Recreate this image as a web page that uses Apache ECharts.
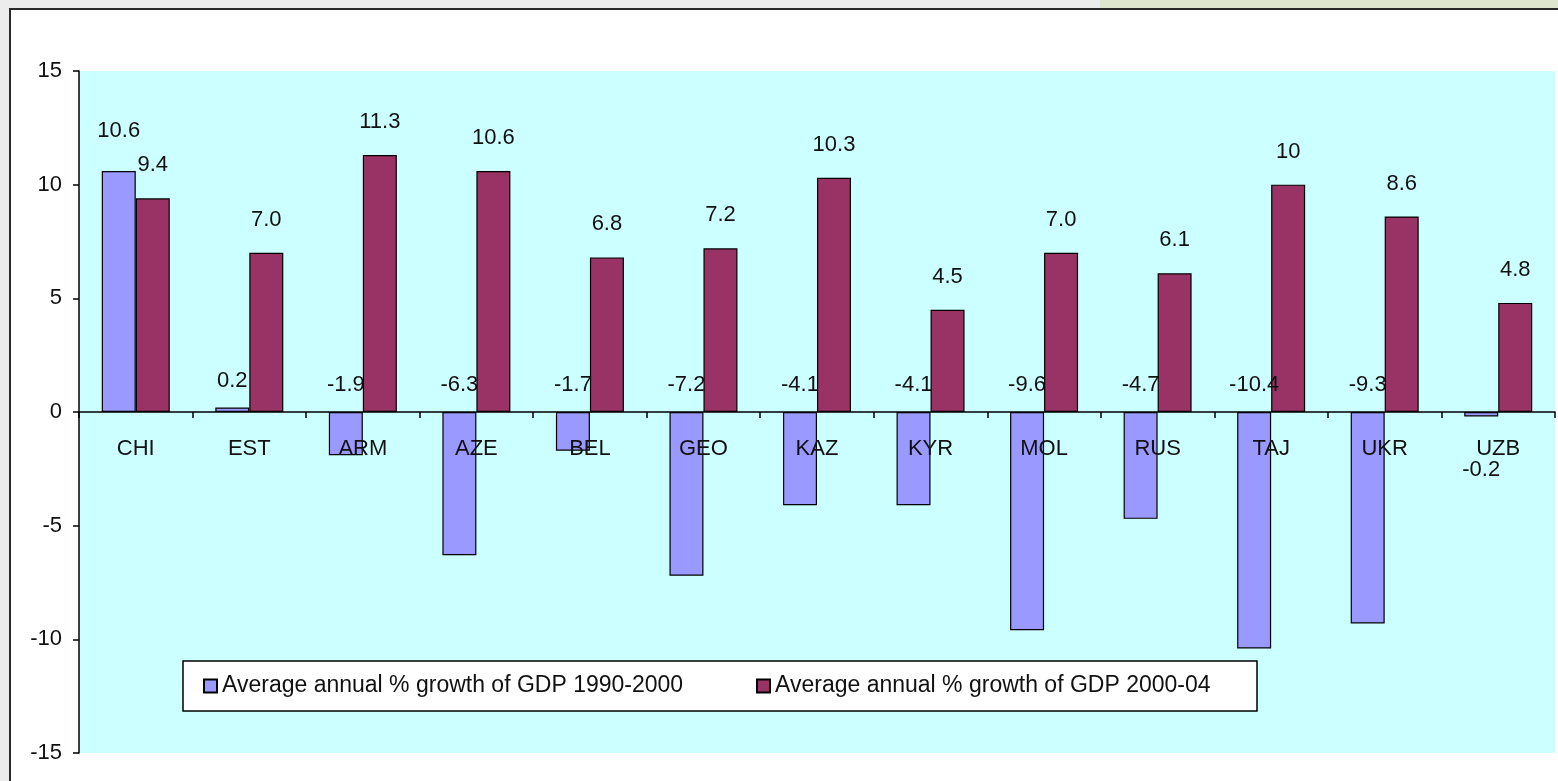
<!DOCTYPE html>
<html><head><meta charset="utf-8">
<script src="https://cdn.jsdelivr.net/npm/echarts@6/dist/echarts.min.js"></script>
<style>html,body{margin:0;padding:0;background:#ececec;}#c{width:1558px;height:781px;}</style>
</head><body><div id="c"></div>
<script>
const categories = ['CHI','EST','ARM','AZE','BEL','GEO','KAZ','KYR','MOL','RUS','TAJ','UKR','UZB'];
const gdp1990_2000 = [10.6, 0.2, -1.9, -6.3, -1.7, -7.2, -4.1, -4.1, -9.6, -4.7, -10.4, -9.3, -0.2];
const gdp2000_04 = [9.4, 7.0, 11.3, 10.6, 6.8, 7.2, 10.3, 4.5, 7.0, 6.1, 10, 8.6, 4.8];
const label1 = ['10.6','0.2','-1.9','-6.3','-1.7','-7.2','-4.1','-4.1','-9.6','-4.7','-10.4','-9.3','-0.2'];
const label2 = ['9.4','7.0','11.3','10.6','6.8','7.2','10.3','4.5','7.0','6.1','10','8.6','4.8'];
const seriesNames = ['Average annual % growth of GDP 1990-2000','Average annual % growth of GDP 2000-04'];
const yTicks = [-15,-10,-5,0,5,10,15];

const font = 'Liberation Sans, Arial, sans-serif';
const chart = echarts.init(document.getElementById('c'));

const gridTop = 71, gridHeight = 682;
const zeroY = gridTop + gridHeight / 2;

const data1 = gdp1990_2000.map((v,i)=>{
  const item = {value: v, label: {formatter: label1[i]}};
  if (i === gdp1990_2000.length - 1) { item.label.position = 'bottom'; item.label.distance = 42; }
  else if (v > 5) { item.label.distance = 29; }
  return item;
});
const data2 = gdp2000_04.map((v,i)=>({value: v, label: {formatter: label2[i]}}));

chart.setOption({
  backgroundColor: '#ececec',
  animation: false,
  graphic: [
    {type:'rect', z:-10, shape:{x:10,y:9,width:1560,height:790}, style:{fill:'#ffffff', stroke:'#2b2b2b', lineWidth:2}},
    {type:'rect', z:-11, shape:{x:1100,y:0,width:458,height:8}, style:{fill:'#dfe6cf'}}
  ],
  grid: {left: 79, right: 3, top: gridTop, height: gridHeight, show: true, backgroundColor: '#CCFFFF', borderWidth: 0,
         containLabel: false, outerBoundsMode: 'none'},
  legend: {
    left: 183, top: 661,
    backgroundColor: '#ffffff', borderColor: '#000', borderWidth: 1.5,
    padding: [13, 12, 13, 20],
    itemWidth: 13, itemHeight: 13, itemGap: 30,
    icon: 'rect',
    textStyle: {fontFamily: font, fontSize: 23, lineHeight: 24, color: '#111'},
    data: [
      {name: seriesNames[0], textStyle: {width: 504}},
      {name: seriesNames[1], textStyle: {width: 470}}
    ]
  },
  xAxis: {
    type: 'category', data: categories,
    axisLine: {onZero: true, lineStyle: {color: '#000', width: 1.5}},
    axisTick: {show: true, length: 6, lineStyle: {color: '#000', width: 1.5}},
    axisLabel: {fontFamily: font, fontSize: 22, color: '#111', margin: -(gridTop + gridHeight - zeroY) + 26},
    z: 10
  },
  yAxis: {
    type: 'value', min: -15, max: 15, interval: 5,
    axisLine: {show: true, lineStyle: {color: '#000', width: 1.5}},
    axisTick: {show: true, length: 6, lineStyle: {color: '#000', width: 1.5}},
    axisLabel: {fontFamily: font, fontSize: 22, color: '#111', margin: 17,
      formatter: v => yTicks.includes(v) ? String(v) : ''},
    splitLine: {show: false}
  },
  series: [
    {name: seriesNames[0], type: 'bar', data: data1, barWidth: 34, barGap: '0%',
     itemStyle: {color: '#9999FF', borderColor: '#000', borderWidth: 1.2},
     label: {show: true, position: 'top', distance: 16, fontFamily: font, fontSize: 22, color: '#111'}},
    {name: seriesNames[1], type: 'bar', data: data2, barWidth: 34, barGap: '0%',
     itemStyle: {color: '#993366', borderColor: '#000', borderWidth: 1.2},
     label: {show: true, position: 'top', distance: 22, fontFamily: font, fontSize: 22, color: '#111'}}
  ]
});
</script></body></html>
